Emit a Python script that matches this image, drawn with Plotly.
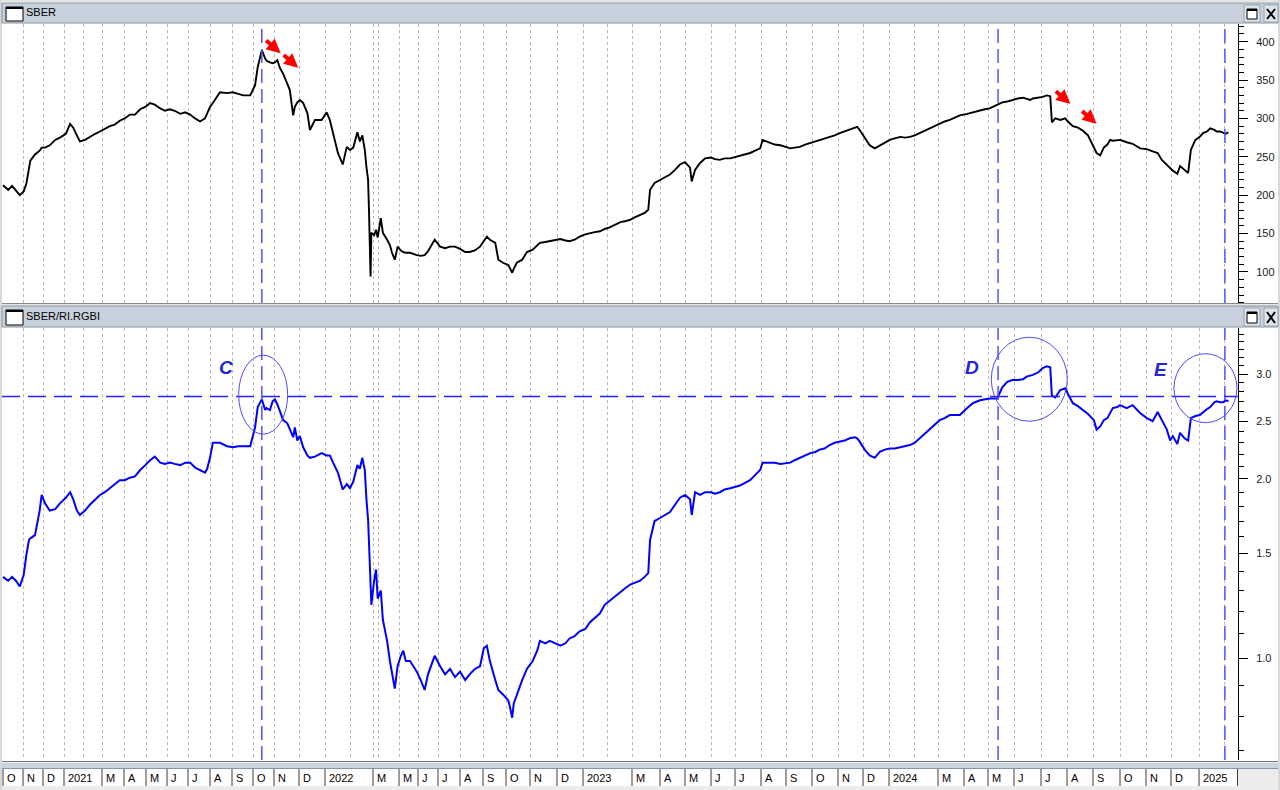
import calendar
import math
import pandas as pd
import plotly.graph_objects as go

# ---------------- data ----------------
months = [p.strftime("%Y-%m") for p in pd.period_range("2020-10", "2025-02", freq="M")]
sessions_per_month = [20, 20, 21,
                      19, 19, 22, 22, 21, 21, 22, 22, 21, 21, 25, 26,
                      25, 23, 5, 21, 19, 20, 22, 23, 23, 24, 27, 26,
                      24, 25, 28, 25, 26, 24, 26, 25, 26, 26, 25, 26,
                      25, 24, 26, 24, 26, 27, 26, 26, 27, 26, 25, 28,
                      25, 25]
month_labels = ["O", "N", "D",
                "2021", "", "M", "A", "M", "J", "J", "A", "S", "O", "N", "D",
                "2022", "", "M", "", "M", "J", "J", "A", "S", "O", "N", "D",
                "2023", "", "M", "A", "M", "J", "J", "A", "S", "O", "N", "D",
                "2024", "", "M", "A", "M", "J", "J", "A", "S", "O", "N", "D",
                "2025", ""]

dates = [
    "2020-10-01", "2020-10-09", "2020-10-15", "2020-10-21", "2020-10-27", "2020-11-02", "2020-11-06", "2020-11-10",
    "2020-11-12", "2020-11-19", "2020-11-26", "2020-11-29", "2020-12-04", "2020-12-11", "2020-12-19", "2020-12-26",
    "2021-01-04", "2021-01-11", "2021-01-16", "2021-01-22", "2021-01-27", "2021-02-04", "2021-02-11", "2021-02-19",
    "2021-02-26", "2021-03-05", "2021-03-12", "2021-03-19", "2021-03-26", "2021-04-02", "2021-04-09", "2021-04-16",
    "2021-04-23", "2021-04-30", "2021-05-07", "2021-05-14", "2021-05-22", "2021-05-29", "2021-06-05", "2021-06-12",
    "2021-06-20", "2021-06-27", "2021-07-04", "2021-07-11", "2021-07-18", "2021-07-25", "2021-07-28", "2021-08-01",
    "2021-08-05", "2021-08-15", "2021-08-25", "2021-09-02", "2021-09-10", "2021-09-17", "2021-09-27", "2021-10-04",
    "2021-10-08", "2021-10-14", "2021-10-19", "2021-10-21", "2021-10-26", "2021-10-30", "2021-11-02", "2021-11-05",
    "2021-11-08", "2021-11-12", "2021-11-17", "2021-11-20", "2021-11-24", "2021-11-26", "2021-11-29", "2021-12-02",
    "2021-12-06", "2021-12-11", "2021-12-14", "2021-12-20", "2021-12-28", "2022-01-03", "2022-01-07", "2022-01-11",
    "2022-01-17", "2022-01-23", "2022-01-28", "2022-02-01", "2022-02-05", "2022-02-10", "2022-02-13", "2022-02-16",
    "2022-02-19", "2022-02-21", "2022-02-23", "2022-02-24", "2022-02-26", "2022-02-27", "2022-03-08", "2022-03-20",
    "2022-03-30", "2022-04-05", "2022-04-08", "2022-04-14", "2022-04-18", "2022-04-21", "2022-04-25", "2022-04-29",
    "2022-05-04", "2022-05-08", "2022-05-12", "2022-05-19", "2022-05-25", "2022-05-30", "2022-06-05", "2022-06-11",
    "2022-06-16", "2022-06-19", "2022-06-26", "2022-07-04", "2022-07-11", "2022-07-18", "2022-07-25", "2022-08-01",
    "2022-08-08", "2022-08-14", "2022-08-21", "2022-08-28", "2022-09-02", "2022-09-06", "2022-09-10", "2022-09-17",
    "2022-09-21", "2022-09-27", "2022-10-04", "2022-10-06", "2022-10-09", "2022-10-11", "2022-10-15", "2022-10-22",
    "2022-10-28", "2022-11-04", "2022-11-09", "2022-11-12", "2022-11-18", "2022-11-23", "2022-12-05", "2022-12-11",
    "2022-12-16", "2022-12-22", "2022-12-28", "2023-01-04", "2023-01-10", "2023-01-16", "2023-01-23", "2023-01-29",
    "2023-02-04", "2023-02-10", "2023-02-16", "2023-02-21", "2023-02-27", "2023-03-04", "2023-03-10", "2023-03-15",
    "2023-03-19", "2023-03-21", "2023-03-26", "2023-04-01", "2023-04-07", "2023-04-13", "2023-04-19", "2023-04-25",
    "2023-05-01", "2023-05-07", "2023-05-09", "2023-05-13", "2023-05-19", "2023-05-25", "2023-06-01", "2023-06-06",
    "2023-06-12", "2023-06-18", "2023-06-25", "2023-07-07", "2023-07-13", "2023-07-19", "2023-07-25", "2023-07-31",
    "2023-08-03", "2023-08-12", "2023-08-18", "2023-08-25", "2023-09-06", "2023-09-11", "2023-09-17", "2023-09-23",
    "2023-09-29", "2023-10-05", "2023-10-10", "2023-10-16", "2023-10-22", "2023-10-28", "2023-11-03", "2023-11-09",
    "2023-11-15", "2023-11-21", "2023-11-24", "2023-11-27", "2023-12-03", "2023-12-09", "2023-12-15", "2023-12-21",
    "2023-12-27", "2024-01-02", "2024-01-08", "2024-01-15", "2024-01-21", "2024-01-27", "2024-02-02", "2024-02-08",
    "2024-02-14", "2024-02-20", "2024-02-26", "2024-03-03", "2024-03-09", "2024-03-15", "2024-03-21", "2024-03-27",
    "2024-04-05", "2024-04-12", "2024-04-21", "2024-04-27", "2024-05-03", "2024-05-12", "2024-05-18", "2024-05-24",
    "2024-05-30", "2024-06-05", "2024-06-11", "2024-06-15", "2024-06-19", "2024-06-22", "2024-06-28", "2024-07-03",
    "2024-07-08", "2024-07-12", "2024-07-14", "2024-07-18", "2024-07-24", "2024-07-30", "2024-08-02", "2024-08-08",
    "2024-08-14", "2024-08-20", "2024-08-26", "2024-09-02", "2024-09-05", "2024-09-09", "2024-09-13", "2024-09-17",
    "2024-09-20", "2024-09-23", "2024-09-28", "2024-10-01", "2024-10-09", "2024-10-16", "2024-10-25", "2024-11-02",
    "2024-11-09", "2024-11-15", "2024-11-20", "2024-11-26", "2024-11-30", "2024-12-03", "2024-12-08", "2024-12-11",
    "2024-12-16", "2024-12-20", "2024-12-23", "2024-12-28", "2025-01-02", "2025-01-06", "2025-01-11", "2025-01-15",
    "2025-01-20", "2025-01-23", "2025-01-27", "2025-01-31", "2025-02-03", "2025-02-06",
]

sber = [
    213, 207, 212, 206, 200, 205, 215, 235,
    245, 253, 258, 262, 262, 265, 272, 275,
    280, 293, 288, 278, 270, 272, 276, 280,
    283, 287, 290, 292, 297, 300, 305, 305,
    312, 315, 320, 318, 313, 310, 312, 310,
    306, 308, 305, 300, 296, 300, 307, 315,
    320, 334, 333, 334, 332, 330, 330, 343,
    367, 389, 378, 375, 373, 372, 373, 376,
    366, 358, 345, 337, 304, 315, 321, 324,
    320, 307, 285, 298, 298, 308, 298, 281,
    255, 240, 263, 259, 262, 282, 270, 278,
    259, 237, 220, 185, 94, 151, 148, 155,
    145, 170, 151, 142, 135, 125, 116, 133,
    128, 126, 125, 125, 123, 122, 121, 122,
    127, 131, 142, 133, 131, 133, 133, 130,
    126, 126, 128, 133, 140, 146, 142, 138,
    116, 112, 109, 105, 99, 104, 112, 116,
    126, 129, 134, 138, 139, 140, 143, 141,
    140, 142, 146, 149, 151, 152, 153, 156,
    158, 162, 165, 166, 168, 171, 174, 177,
    181, 207, 216, 220, 224, 227, 233, 240,
    243, 236, 218, 233, 242, 248, 249, 247,
    246, 248, 248, 251, 253, 255, 258, 261,
    272, 268, 266, 265, 261, 262, 263, 266,
    268, 270, 272, 274, 276, 278, 281, 283,
    285, 288, 289, 285, 275, 265, 261, 265,
    268, 272, 274, 276, 275, 276, 278, 281,
    284, 287, 291, 294, 296, 298, 301, 304,
    306, 308, 311, 312, 313, 318, 321, 322,
    324, 326, 327, 325, 324, 326, 327, 328,
    330, 329, 295, 300, 298, 300, 296, 290,
    288, 284, 278, 262, 255, 252, 262, 266,
    272, 271, 272, 272, 269, 267, 261, 260,
    257, 255, 246, 240, 235, 232, 228, 238,
    233, 229, 259, 272, 276, 281, 283, 287,
    285, 283, 283, 281, 280, 282,
]

ratio = [
    1.37, 1.35, 1.37, 1.35, 1.32, 1.38, 1.49, 1.58,
    1.59, 1.61, 1.77, 1.88, 1.82, 1.77, 1.78, 1.82,
    1.86, 1.90, 1.85, 1.77, 1.74, 1.77, 1.81, 1.85,
    1.88, 1.90, 1.93, 1.96, 1.99, 1.99, 2.01, 2.02,
    2.07, 2.11, 2.15, 2.18, 2.13, 2.12, 2.13, 2.12,
    2.11, 2.13, 2.13, 2.09, 2.07, 2.05, 2.08, 2.17,
    2.30, 2.30, 2.27, 2.26, 2.27, 2.27, 2.27, 2.44,
    2.64, 2.72, 2.61, 2.63, 2.61, 2.70, 2.72, 2.67,
    2.59, 2.51, 2.48, 2.42, 2.35, 2.44, 2.32, 2.36,
    2.26, 2.19, 2.17, 2.18, 2.21, 2.19, 2.19, 2.13,
    2.05, 1.92, 1.96, 1.93, 1.98, 2.11, 2.08, 2.17,
    2.07, 1.85, 1.71, 1.58, 1.25, 1.23, 1.35, 1.41,
    1.26, 1.30, 1.16, 1.07, 0.99, 0.95, 0.89, 0.97,
    1.01, 1.03, 0.99, 0.99, 0.97, 0.95, 0.92, 0.885,
    0.94, 0.96, 1.01, 0.97, 0.94, 0.96, 0.93, 0.95,
    0.92, 0.94, 0.96, 0.97, 1.04, 1.05, 0.99, 0.92,
    0.885, 0.87, 0.85, 0.83, 0.795, 0.84, 0.87, 0.92,
    0.96, 0.99, 1.03, 1.07, 1.06, 1.07, 1.05, 1.06,
    1.08, 1.09, 1.11, 1.12, 1.15, 1.17, 1.19, 1.23,
    1.25, 1.27, 1.29, 1.31, 1.33, 1.34, 1.35, 1.37,
    1.39, 1.58, 1.70, 1.72, 1.74, 1.76, 1.81, 1.86,
    1.88, 1.85, 1.74, 1.90, 1.88, 1.90, 1.90, 1.89,
    1.90, 1.92, 1.93, 1.95, 1.97, 1.99, 2.03, 2.07,
    2.13, 2.13, 2.13, 2.12, 2.13, 2.15, 2.17, 2.19,
    2.21, 2.22, 2.24, 2.25, 2.28, 2.30, 2.31, 2.32,
    2.34, 2.35, 2.34, 2.31, 2.24, 2.19, 2.17, 2.22,
    2.24, 2.25, 2.25, 2.26, 2.27, 2.28, 2.30, 2.34,
    2.38, 2.42, 2.46, 2.51, 2.53, 2.56, 2.56, 2.56,
    2.63, 2.68, 2.71, 2.72, 2.73, 2.73, 2.85, 2.91,
    2.93, 2.93, 2.94, 2.97, 2.98, 2.99, 3.02, 3.07,
    3.09, 3.08, 2.76, 2.74, 2.82, 2.84, 2.78, 2.68,
    2.65, 2.61, 2.57, 2.51, 2.42, 2.45, 2.51, 2.53,
    2.58, 2.63, 2.64, 2.66, 2.63, 2.66, 2.58, 2.53,
    2.50, 2.59, 2.51, 2.42, 2.32, 2.36, 2.29, 2.39,
    2.34, 2.32, 2.53, 2.55, 2.56, 2.59, 2.62, 2.64,
    2.69, 2.70, 2.69, 2.69, 2.71, 2.70,
]

marker_dates = ["2021-10-14", "2024-05-13", "2025-02-02"]   # dashed verticals
ratio_level = 2.75                                          # dashed horizontal
circle_marks = [("2021-10-16", 2.77, 24.5, 39.5), ("2024-06-18", 2.94, 38, 42), ("2025-01-09", 2.84, 31.5, 34.5)]
letter_marks = [("C", "2021-08-23", 3.08), ("D", "2024-04-11", 3.08), ("E", "2024-11-19", 3.05)]
arrow_marks = [("2021-11-09", 385), ("2021-11-30", 366), ("2024-08-05", 319), ("2024-09-05", 293)]

# ---------------- session-based x scale ----------------
starts = []
acc = 0
for n in sessions_per_month:
    starts.append(acc)
    acc += n


def to_x(d):
    ts = pd.Timestamp(d)
    i = months.index(f"{ts.year}-{ts.month:02d}")
    ndays = calendar.monthrange(ts.year, ts.month)[1]
    return starts[i] + (ts.day - 1) / ndays * sessions_per_month[i]


xs = [to_x(d) for d in dates]

W, H = 1280, 790


def px(x):
    return x / W


def py(y):
    return 1 - y / H


FONT = "Liberation Sans, Arial, sans-serif"
HEADER = "#c6d1dd"
Y2_RANGE = [-0.1705, 0.5543]


def y2_frac(v):
    return (math.log10(v) - Y2_RANGE[0]) / (Y2_RANGE[1] - Y2_RANGE[0])


fig = go.Figure()
fig.add_trace(go.Scatter(x=xs, y=sber, mode="lines", line=dict(color="black", width=1.9),
                         xaxis="x", yaxis="y", hoverinfo="skip"))
fig.add_trace(go.Scatter(x=xs, y=ratio, mode="lines", line=dict(color="#0000ff", width=2),
                         xaxis="x2", yaxis="y2", hoverinfo="skip"))

xdom = [px(2), px(1238)]
xrange = [-1, 1235]
grid = dict(showgrid=True, gridcolor="#b8b8b8", griddash="3px,3px", gridwidth=1,
            tickmode="array", tickvals=starts, showticklabels=False, ticks="",
            zeroline=False, showline=False, range=xrange, domain=xdom)

top_major = [100, 150, 200, 250, 300, 350, 400]
top_minor = [v for v in range(60, 430, 10) if v % 50]
bot_major = [1.0, 1.5, 2.0, 2.5, 3.0]
bot_minor = [0.7, 0.8, 0.9, 1.1, 1.2, 1.3, 1.4, 1.6, 1.7, 1.8, 1.9, 2.1, 2.2, 2.3, 2.4,
             2.6, 2.7, 2.8, 2.9, 3.1, 3.2, 3.3, 3.4, 3.5]

yax_common = dict(side="right", showline=True, linecolor="black", linewidth=1, ticks="outside",
                  ticklen=9, tickcolor="black", tickwidth=1, showgrid=False, zeroline=False,
                  tickfont=dict(family=FONT, size=11, color="#1a1a1a"), ticklabelstandoff=6)

fig.update_layout(
    width=W, height=H, autosize=False,
    margin=dict(l=0, r=0, t=0, b=0),
    paper_bgcolor="white", plot_bgcolor="white", showlegend=False,
    font=dict(family=FONT, size=11, color="#111"),
    xaxis=dict(anchor="y", **grid),
    xaxis2=dict(anchor="y2", **grid),
    yaxis=dict(anchor="x", domain=[py(303), py(24)], range=[59.6, 423.0],
               tickmode="array", tickvals=top_major, ticktext=[str(v) for v in top_major],
               minor=dict(tickmode="array", tickvals=top_minor, ticks="outside", ticklen=5,
                          tickcolor="black", showgrid=False),
               **yax_common),
    yaxis2=dict(anchor="x2", type="log", domain=[py(760), py(328)], range=Y2_RANGE,
                tickmode="array", tickvals=bot_major, ticktext=[f"{v:.1f}" for v in bot_major],
                minor=dict(tickmode="array", tickvals=bot_minor, ticks="outside", ticklen=5,
                           tickcolor="black", showgrid=False),
                **yax_common),
)

shapes = []
annotations = []


def rect(x0, y0, x1, y1, fill, line=None, lw=0, layer="above"):
    shapes.append(dict(type="rect", xref="paper", yref="paper", x0=px(x0), x1=px(x1),
                       y0=py(y1), y1=py(y0), fillcolor=fill, layer=layer,
                       line=dict(color=line if line else fill, width=lw)))


def hline(x0, x1, y, color, w=1):
    shapes.append(dict(type="line", xref="paper", yref="paper", x0=px(x0), x1=px(x1),
                       y0=py(y), y1=py(y), line=dict(color=color, width=w), layer="above"))


def vline(x, y0, y1, color, w=1):
    shapes.append(dict(type="line", xref="paper", yref="paper", x0=px(x), x1=px(x),
                       y0=py(y0), y1=py(y1), line=dict(color=color, width=w), layer="above"))


# window frame
rect(0, 0, 1280, 2, "#e4e4e4")
rect(0, 0, 2, 790, "#d8d8d8")
rect(1278, 0, 1280, 790, "#d8d8d8")


def header(y0, y1, title):
    rect(2, y0, 1278, y1, HEADER, "#8c96a0", 1)
    # window icon
    rect(6, y0 + 4, 23, y1 - 2, "white", "black", 1)
    rect(6, y0 + 4, 23, y0 + 6, "black")
    annotations.append(dict(xref="paper", yref="paper", x=px(24), y=py((y0 + y1) / 2 - 0.5),
                            xanchor="left", yanchor="middle", showarrow=False, text=title,
                            font=dict(family=FONT, size=11, color="black")))
    # maximise / close buttons
    rect(1244, y0 + 2, 1260, y1 - 1, "#dde4ec", "#9aa4ae", 1)
    rect(1264, y0 + 2, 1278, y1 - 1, "#dde4ec", "#9aa4ae", 1)
    rect(1247, y0 + 6, 1257, y1 - 4, "white", "black", 1)
    rect(1247, y0 + 6, 1257, y0 + 8, "black")
    shapes.append(dict(type="line", xref="paper", yref="paper", x0=px(1267), x1=px(1275),
                       y0=py(y0 + 6), y1=py(y1 - 4), line=dict(color="black", width=2), layer="above"))
    shapes.append(dict(type="line", xref="paper", yref="paper", x0=px(1267), x1=px(1275),
                       y0=py(y1 - 4), y1=py(y0 + 6), line=dict(color="black", width=2), layer="above"))


header(3, 23, "SBER")
hline(2, 1278, 303.5, "#8a8a8a", 1)
rect(2, 304, 1278, 306, "#e6e6e6")
header(306, 327, "SBER/RI.RGBI")

# x axis band
rect(2, 761, 1278, 790, "#ececec")
hline(2, 1278, 761.5, "#7a7a7a", 1)
rect(2, 763, 1278, 768, "#c9d4e0")
hline(2, 1278, 768.5, "#8896a6", 1)
rect(2, 769, 1237, 786, "white")
for i, lab in enumerate(month_labels):
    if not lab:
        continue
    shapes.append(dict(type="line", xref="x2", yref="paper", x0=starts[i], x1=starts[i],
                       y0=py(786), y1=py(769), line=dict(color="#3c3c3c", width=1), layer="above"))
    annotations.append(dict(xref="x2", yref="paper", x=starts[i], y=py(777.5), xanchor="left",
                            yanchor="middle", xshift=2, showarrow=False, text=lab,
                            font=dict(family=FONT, size=11, color="black")))
vline(1237.5, 769, 786, "#3c3c3c")

# dashed vertical markers
for d in marker_dates:
    xv = to_x(d)
    for xr, yr in (("x", "y domain"), ("x2", "y2 domain")):
        shapes.append(dict(type="line", xref=xr, yref=yr, x0=xv, x1=xv, y0=0, y1=1,
                           line=dict(color="#5252ff", width=1.5, dash="14px,6px"), layer="above"))

# dashed horizontal level on the ratio panel
lvl = y2_frac(ratio_level)
shapes.append(dict(type="line", xref="x2 domain", yref="y2 domain", x0=0, x1=1, y0=lvl, y1=lvl,
                   line=dict(color="#2424ff", width=1.5, dash="18px,8px"), layer="above"))

# circles
for d, v, rx, ry in circle_marks:
    shapes.append(dict(type="circle", xref="x2", yref="y2 domain", xsizemode="pixel", ysizemode="pixel",
                       xanchor=to_x(d), yanchor=y2_frac(v), x0=-rx, x1=rx, y0=-ry, y1=ry,
                       line=dict(color="#4a4aff", width=1), layer="above"))

# letters
for t, d, v in letter_marks:
    annotations.append(dict(xref="x2", yref="y2", x=to_x(d), y=math.log10(v), showarrow=False,
                            text=f"<b><i>{t}</i></b>",
                            font=dict(family=FONT, size=19, color="#2424e0")))

# red arrows
for d, v in arrow_marks:
    annotations.append(dict(xref="x", yref="y", x=to_x(d), y=v, text="", showarrow=True,
                            ax=-16, ay=-14, arrowhead=2, arrowsize=0.7, arrowwidth=4,
                            arrowcolor="#ff0000", standoff=0))

fig.update_layout(shapes=shapes, annotations=annotations)

fig.write_html("out.html", config={"displayModeBar": False},
               post_script="document.body.style.margin='0';document.body.style.overflow='hidden';")
